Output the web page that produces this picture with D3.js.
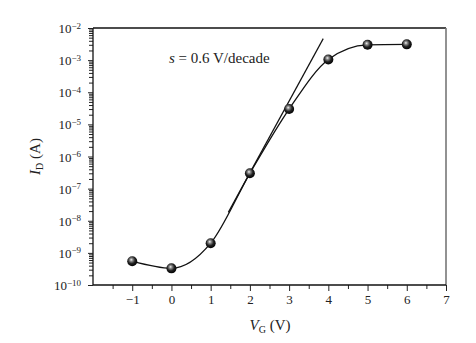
<!DOCTYPE html>
<html>
<head>
<meta charset="utf-8">
<script src="https://cdn.jsdelivr.net/npm/d3@7"></script>
<style>
  html, body { margin: 0; padding: 0; background: #fff; }
  svg { display: block; font-family: "Liberation Serif", "Times New Roman", serif; }
</style>
</head>
<body>
<svg id="chart" width="476" height="343"></svg>
<script>
// Gate voltage (V) and drain current (A)
const gateVoltage = [-1, 0, 1, 2, 3, 4, 5, 6];
const drainCurrent = [5.5e-10, 3.3e-10, 2.0e-9, 3.0e-7, 3.0e-5, 1.05e-3, 3.0e-3, 3.1e-3];

// Subthreshold slope guide line (two end points in data units)
const slopeLineV = [1.45, 3.87];
const slopeLineI = [Math.pow(10, -7.74), Math.pow(10, -2.33)];

const xTicks = [-1, 0, 1, 2, 3, 4, 5, 6, 7];
const xMinorTicks = [-1.5, -0.5, 0.5, 1.5, 2.5, 3.5, 4.5, 5.5, 6.5];
const yExponents = [-10, -9, -8, -7, -6, -5, -4, -3, -2];

const plotL = 93, plotR = 446, plotT = 28, plotB = 285;
const svg = d3.select("#chart");

const x = d3.scaleLinear().domain([-2, 7]).range([plotL, plotR]);
const y = d3.scaleLog().domain([1e-10, 1e-2]).range([plotB, plotT]);

const yMinor = [];
yExponents.slice(0, -1).forEach(e => {
  for (let m = 2; m <= 9; m++) yMinor.push(m * Math.pow(10, e));
});

// Frame: top and right edges
svg.append("line").attr("x1", plotL).attr("x2", plotR).attr("y1", plotT).attr("y2", plotT)
  .attr("stroke", "#111").attr("stroke-width", 1.3);
svg.append("line").attr("x1", plotR).attr("x2", plotR).attr("y1", plotT).attr("y2", plotB)
  .attr("stroke", "#777").attr("stroke-width", 1.6);

// Bottom axis
const gx = svg.append("g").attr("transform", `translate(0,${plotB})`);
gx.append("g").call(d3.axisBottom(x).tickValues(xMinorTicks).tickSize(4).tickFormat(""))
  .call(g => g.select(".domain").remove());
const gxMajor = gx.append("g").call(d3.axisBottom(x).tickValues(xTicks).tickSize(6).tickSizeOuter(0)
  .tickFormat(d => d < 0 ? "\u2212" + Math.abs(d) : String(d)));
gxMajor.select(".domain").attr("d", `M${plotL},0H${plotR}`).attr("stroke", "#111").attr("stroke-width", 1.3);
gx.selectAll(".tick line").attr("stroke", "#222");
gxMajor.selectAll(".tick text").attr("font-size", 13).attr("font-family", "Liberation Serif")
  .attr("fill", "#222").attr("y", 10).attr("dy", "0.71em");

// Left axis
const gy = svg.append("g").attr("transform", `translate(${plotL},0)`);
gy.append("g").call(d3.axisLeft(y).tickValues(yMinor).tickSize(4).tickFormat(""))
  .call(g => g.select(".domain").remove());
const gyMajor = gy.append("g").call(d3.axisLeft(y)
  .tickValues(yExponents.map(e => Math.pow(10, e))).tickSize(5).tickSizeOuter(0).tickFormat(""));
gy.selectAll(".tick line").attr("stroke", "#222");
gyMajor.select(".domain").attr("d", `M0,${plotB}V${plotT}`).attr("stroke", "#111").attr("stroke-width", 1.3);
gyMajor.selectAll(".tick").each(function(d) {
  const e = Math.round(Math.log10(d));
  const t = d3.select(this).append("text")
    .attr("x", -12).attr("y", 0).attr("dy", "0.35em")
    .attr("text-anchor", "end").attr("fill", "#222")
    .attr("font-size", 13).attr("font-family", "Liberation Serif");
  t.append("tspan").text("10");
  t.append("tspan").attr("dy", "-0.5em").attr("font-size", 9).text("\u2212" + Math.abs(e));
});

// Smooth transfer curve
const line = d3.line()
  .x((d, i) => x(gateVoltage[i]))
  .y((d, i) => y(drainCurrent[i]))
  .curve(d3.curveMonotoneX);
svg.append("path").datum(drainCurrent).attr("d", line)
  .attr("fill", "none").attr("stroke", "#111").attr("stroke-width", 1.3);

// Slope guide
svg.append("line")
  .attr("x1", x(slopeLineV[0])).attr("y1", y(slopeLineI[0]))
  .attr("x2", x(slopeLineV[1])).attr("y2", y(slopeLineI[1]))
  .attr("stroke", "#111").attr("stroke-width", 1.2);

// Spherical markers
const defs = svg.append("defs");
const grad = defs.append("radialGradient").attr("id", "ball")
  .attr("cx", "45%").attr("cy", "40%").attr("r", "60%").attr("fx", "40%").attr("fy", "35%");
grad.append("stop").attr("offset", "0%").attr("stop-color", "#f2f2f2");
grad.append("stop").attr("offset", "25%").attr("stop-color", "#8a8a8a");
grad.append("stop").attr("offset", "60%").attr("stop-color", "#222");
grad.append("stop").attr("offset", "100%").attr("stop-color", "#000");

svg.append("g").selectAll("circle").data(drainCurrent).join("circle")
  .attr("cx", (d, i) => x(gateVoltage[i]))
  .attr("cy", d => y(d))
  .attr("r", 5)
  .attr("fill", "url(#ball)");

// Annotation
const ann = svg.append("text").attr("x", 169).attr("y", 63)
  .attr("font-size", 15).attr("fill", "#222");
ann.append("tspan").attr("font-style", "italic").text("s");
ann.append("tspan").text(" = 0.6 V/decade");

// Axis titles
const xt = svg.append("text").attr("x", (plotL + plotR) / 2 + 0.5).attr("y", 330)
  .attr("text-anchor", "middle").attr("font-size", 15).attr("fill", "#222");
xt.append("tspan").attr("font-style", "italic").text("V");
xt.append("tspan").attr("font-size", 10).attr("dy", 3).text("G");
xt.append("tspan").attr("dy", -3).text(" (V)");

const yt = svg.append("text")
  .attr("transform", `translate(40,${(plotT + plotB) / 2}) rotate(-90)`)
  .attr("text-anchor", "middle").attr("font-size", 15).attr("fill", "#222");
yt.append("tspan").attr("font-style", "italic").text("I");
yt.append("tspan").attr("font-size", 10).attr("dy", 3).text("D");
yt.append("tspan").attr("dy", -3).text(" (A)");
</script>
</body>
</html>
